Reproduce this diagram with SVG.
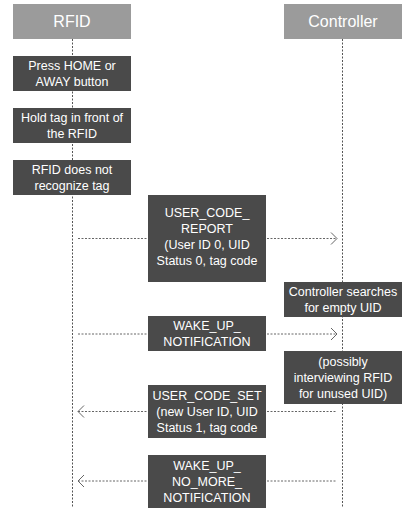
<svg xmlns="http://www.w3.org/2000/svg" width="413" height="519" viewBox="0 0 413 519">
<style>
.hdr{fill:#9b9b9b}
.box{fill:#4a4a4a}
.ht{font-family:"Liberation Sans",Arial,sans-serif;font-size:16px;fill:#ffffff;text-anchor:middle}
.bt{font-family:"Liberation Sans",Arial,sans-serif;font-size:12.5px;fill:#ffffff;text-anchor:middle}
.life{stroke:#555;stroke-width:1;stroke-dasharray:2 1.5;fill:none}
.msg{stroke:#666;stroke-width:1;stroke-dasharray:2 1.5;fill:none}
.head{stroke:#666;stroke-width:1;fill:none}
</style>
<rect width="413" height="519" fill="#ffffff"/>
<g id="connectors">
<line class="life" x1="72.5" y1="39" x2="72.5" y2="507"/>
<line class="life" x1="342.5" y1="39" x2="342.5" y2="507"/>
<line class="msg" x1="78" y1="238.5" x2="337" y2="238.5"/>
<polyline class="head" points="331,232.5 337,238.5 331,244.5"/>
<line class="msg" x1="78" y1="334" x2="337" y2="334"/>
<polyline class="head" points="331,328 337,334 331,340"/>
<line class="msg" x1="78" y1="411.5" x2="337" y2="411.5"/>
<polyline class="head" points="84,405.5 78,411.5 84,417.5"/>
<line class="msg" x1="78" y1="481" x2="337" y2="481"/>
<polyline class="head" points="84,475 78,481 84,487"/>
</g>
<g id="rfid"><rect class="hdr" x="13" y="4" width="118" height="35"/><text class="ht" x="72" y="27">RFID</text></g>
<g id="controller"><rect class="hdr" x="284" y="4" width="118" height="35"/><text class="ht" x="343" y="27">Controller</text></g>
<g id="press"><rect class="box" x="13" y="56" width="118" height="35"/><text class="bt" x="72" y="70">Press HOME or</text><text class="bt" x="72" y="86">AWAY button</text></g>
<g id="hold"><rect class="box" x="13" y="108" width="118" height="35"/><text class="bt" x="72" y="122">Hold tag in front of</text><text class="bt" x="72" y="138">the RFID</text></g>
<g id="notrecog"><rect class="box" x="13" y="160" width="118" height="35"/><text class="bt" x="72" y="174">RFID does not</text><text class="bt" x="72" y="190">recognize tag</text></g>
<g id="report"><rect class="box" x="148" y="195" width="118" height="87"/><text class="bt" x="207" y="217">USER_CODE_</text><text class="bt" x="207" y="233">REPORT</text><text class="bt" x="207" y="249">(User ID 0, UID</text><text class="bt" x="207" y="265">Status 0, tag code</text></g>
<g id="searches"><rect class="box" x="284" y="282" width="118" height="35"/><text class="bt" x="343" y="296">Controller searches</text><text class="bt" x="343" y="312">for empty UID</text></g>
<g id="wakeup"><rect class="box" x="148" y="316" width="118" height="35"/><text class="bt" x="207" y="330">WAKE_UP_</text><text class="bt" x="207" y="346">NOTIFICATION</text></g>
<g id="possibly"><rect class="box" x="284" y="351" width="118" height="53"/><text class="bt" x="343" y="366">(possibly</text><text class="bt" x="343" y="382">interviewing RFID</text><text class="bt" x="343" y="398">for unused UID)</text></g>
<g id="codeset"><rect class="box" x="148" y="385" width="118" height="53"/><text class="bt" x="207" y="400">USER_CODE_SET</text><text class="bt" x="207" y="416">(new User ID, UID</text><text class="bt" x="207" y="432">Status 1, tag code</text></g>
<g id="nomore"><rect class="box" x="148" y="455" width="118" height="53"/><text class="bt" x="207" y="470">WAKE_UP_</text><text class="bt" x="207" y="486">NO_MORE_</text><text class="bt" x="207" y="502">NOTIFICATION</text></g>
</svg>
